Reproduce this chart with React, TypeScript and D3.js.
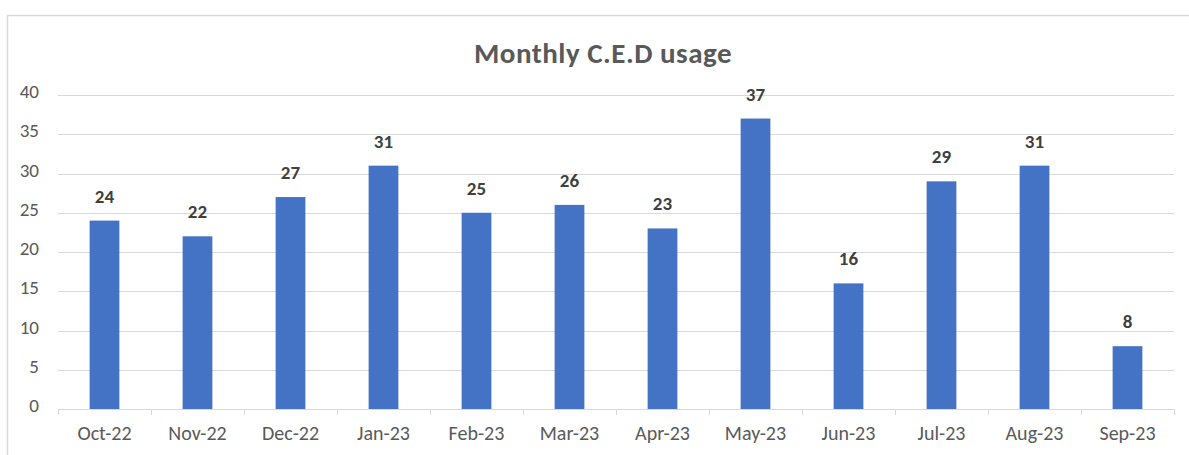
import React from "react";
import * as d3 from "d3";

const categories = ["Oct-22", "Nov-22", "Dec-22", "Jan-23", "Feb-23", "Mar-23", "Apr-23", "May-23", "Jun-23", "Jul-23", "Aug-23", "Sep-23"];
const values = [24, 22, 27, 31, 25, 26, 23, 37, 16, 29, 31, 8];
const yTicks = [0, 5, 10, 15, 20, 25, 30, 35, 40];
const title = "Monthly C.E.D usage";

const W = 1189;
const H = 455;
const FONT = "Calibri, Carlito, Lato, 'Open Sans', sans-serif";

export default function App() {
  const left = 58, right = 1174, top = 95, bottom = 409;
  const x = d3.scaleBand<string>().domain(categories).range([left, right]).paddingInner(0.68).paddingOuter(0.34);
  const y = d3.scaleLinear().domain([0, 40]).range([bottom, top]);
  const band = (right - left) / categories.length;
  return (
    <svg width={W} height={H} style={{ position: "absolute", left: 0, top: 0, background: "#fff" }}>
      <rect x={0} y={0} width={W} height={H} fill="#fff" />
      <line x1={7.5} y1={15} x2={7.5} y2={H} stroke="#d9d9d9" strokeWidth={1.5} />
      <line x1={7} y1={15.5} x2={W} y2={15.5} stroke="#d9d9d9" strokeWidth={1.5} />
      <text x={603} y={63} textAnchor="middle" fontFamily={FONT} fontWeight="bold" fontSize={29} letterSpacing={0.5} fill="#595959">{title}</text>
      {yTicks.map((t) => (
        <g key={t}>
          {t > 0 && <line x1={left} x2={right} y1={Math.round(y(t)) + 0.5} y2={Math.round(y(t)) + 0.5} stroke="#d9d9d9" strokeWidth={1} />}
          <text x={39} y={y(t) + 3} textAnchor="end" fontFamily={FONT} fontSize={19} fill="#595959">{t}</text>
        </g>
      ))}
      {values.map((v, i) => (
        <rect key={i} x={x(categories[i])} y={y(v)} width={x.bandwidth()} height={bottom - y(v)} fill="#4472c4" />
      ))}
      <line x1={left} x2={right} y1={bottom + 0.5} y2={bottom + 0.5} stroke="#d9d9d9" strokeWidth={1} />
      {d3.range(categories.length + 1).map((i) => (
        <line key={i} x1={Math.round(left + i * band) + 0.5} x2={Math.round(left + i * band) + 0.5} y1={bottom} y2={bottom + 6} stroke="#d9d9d9" strokeWidth={1} />
      ))}
      {categories.map((c, i) => (
        <text key={c} x={(x(c) as number) + x.bandwidth() / 2} y={440} textAnchor="middle" fontFamily={FONT} fontSize={20} fill="#595959">{c}</text>
      ))}
      {values.map((v, i) => (
        <text key={i} x={(x(categories[i]) as number) + x.bandwidth() / 2} y={y(v) - 18} textAnchor="middle" fontFamily={FONT} fontWeight="bold" fontSize={19} fill="#404040">{v}</text>
      ))}
    </svg>
  );
}
